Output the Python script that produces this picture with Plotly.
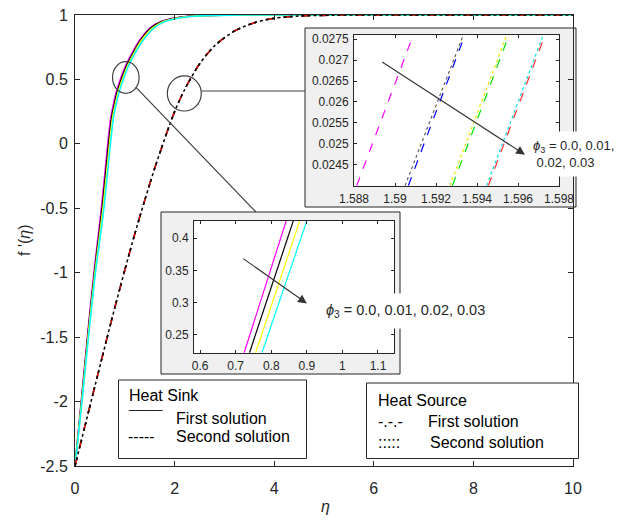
import plotly.graph_objects as go

W, H = 629, 520
L, R, T, B = 75, 573, 15, 466   # main plot area in pixels

def X(px):
    return (px - L) / (R - L)

def Y(py):
    return (B - py) / (B - T)

# ---------------- data ----------------
# main plot: first solutions (heat sink, solid), eta positions at common f' levels
F_LEVELS = [-2.5, -2.0, -1.5, -1.0, -0.5, 0.0, 0.2, 0.3, 0.4, 0.5, 0.6, 0.7, 0.8, 0.9, 0.95, 0.99, 1.0, 1.0]
ETA_MAGENTA = [0, 0.125, 0.248, 0.38, 0.53, 0.658, 0.717, 0.768, 0.827, 0.91, 1.01, 1.14, 1.29, 1.51, 1.73, 2.27, 3.1, 10]
ETA_BLACK = [0, 0.13, 0.255, 0.39, 0.545, 0.675, 0.735, 0.786, 0.846, 0.93, 1.03, 1.16, 1.31, 1.53, 1.75, 2.3, 3.2, 10]
ETA_YELLOW = [0, 0.135, 0.262, 0.40, 0.562, 0.693, 0.753, 0.804, 0.865, 0.95, 1.05, 1.18, 1.33, 1.56, 1.78, 2.34, 3.3, 10]
ETA_CYAN = [0, 0.14, 0.27, 0.41, 0.58, 0.711, 0.771, 0.822, 0.884, 0.97, 1.07, 1.2, 1.36, 1.59, 1.81, 2.38, 3.4, 10]

# main plot: second solutions
ETA_SECOND = [0, 0.4, 0.8, 1.2, 1.6, 2.0, 2.2, 2.5, 2.8, 3.2, 3.6, 4.0, 4.5, 5.2, 6.0, 10]
F_SECOND = [-2.5, -1.88, -1.27, -0.70, -0.19, 0.25, 0.42, 0.62, 0.76, 0.875, 0.94, 0.975, 0.992, 0.999, 1.0, 1.0]

# upper inset (second solutions), each line: eta at bottom / top of the inset
UP_F = [0.024, 0.0276]
UP_MAGENTA = [1.58813, 1.59089]
UP_GRAY = [1.59049, 1.59333]
UP_BLUE = [1.59065, 1.59341]
UP_YELLOW = [1.59268, 1.59545]
UP_GREEN = [1.5928, 1.59556]
UP_CYAN = [1.59447, 1.59723]
UP_RED = [1.59455, 1.59732]

# lower inset (first solutions)
LO_F = [0.2225, 0.427]
LO_MAGENTA = [0.724, 0.842]
LO_BLACK = [0.739, 0.862]
LO_YELLOW = [0.756, 0.880]
LO_CYAN = [0.774, 0.900]

# tick labels
MAIN_XT = [0, 2, 4, 6, 8, 10]
MAIN_YT = [-2.5, -2, -1.5, -1, -0.5, 0, 0.5, 1]
MAIN_YT_TXT = ["-2.5", "-2", "-1.5", "-1", "-0.5", "0", "0.5", "1"]
UP_XT = [1.588, 1.590, 1.592, 1.594, 1.596, 1.598]
UP_XT_TXT = ["1.588", "1.59", "1.592", "1.594", "1.596", "1.598"]
UP_YT = [0.0245, 0.025, 0.0255, 0.026, 0.0265, 0.027, 0.0275]
UP_YT_TXT = ["0.0245", "0.025", "0.0255", "0.026", "0.0265", "0.027", "0.0275"]
LO_XT = [0.6, 0.7, 0.8, 0.9, 1.0, 1.1]
LO_XT_TXT = ["0.6", "0.7", "0.8", "0.9", "1", "1.1"]
LO_YT = [0.25, 0.3, 0.35, 0.4]
LO_YT_TXT = ["0.25", "0.3", "0.35", "0.4"]

AX = "#262626"
FONT = "Liberation Sans, Arial, sans-serif"

fig = go.Figure()

# main first solutions
for eta, col in [(ETA_MAGENTA, "#ff00ff"), (ETA_BLACK, "#000000"),
                 (ETA_YELLOW, "#ffff00"), (ETA_CYAN, "#00ffff")]:
    fig.add_trace(go.Scatter(x=eta, y=F_LEVELS, mode="lines",
                             line=dict(color=col, width=1.6, shape="spline", smoothing=0.8),
                             xaxis="x", yaxis="y", showlegend=False, hoverinfo="skip"))

# main second solutions
for col, dash in [("#ff00ff", "dash"), ("#0000ff", "dash"), ("#00ff00", "dash"),
                  ("#ff0000", "dash"), ("#000000", "dot")]:
    fig.add_trace(go.Scatter(x=ETA_SECOND, y=F_SECOND, mode="lines",
                             line=dict(color=col, width=1.5, dash=dash, shape="spline", smoothing=0.8),
                             xaxis="x", yaxis="y", showlegend=False, hoverinfo="skip"))

# upper inset
for eta, col, dash in [(UP_GRAY, "#606060", "dot"), (UP_YELLOW, "#e8e800", "dot"),
                       (UP_CYAN, "#00e0e0", "dot"), (UP_MAGENTA, "#ff00ff", "dash"),
                       (UP_BLUE, "#0000ff", "dash"), (UP_GREEN, "#00e000", "dash"),
                       (UP_RED, "#ff3030", "dash")]:
    fig.add_trace(go.Scatter(x=eta, y=UP_F, mode="lines",
                             line=dict(color=col, width=1.2, dash=dash),
                             xaxis="x2", yaxis="y2", showlegend=False, hoverinfo="skip"))

# lower inset
for eta, col in [(LO_MAGENTA, "#ff00ff"), (LO_BLACK, "#000000"),
                 (LO_YELLOW, "#ffff00"), (LO_CYAN, "#00ffff")]:
    fig.add_trace(go.Scatter(x=eta, y=LO_F, mode="lines",
                             line=dict(color=col, width=1.2),
                             xaxis="x3", yaxis="y3", showlegend=False, hoverinfo="skip"))

def axis_common(size):
    return dict(showline=True, linecolor=AX, linewidth=1, mirror="ticks",
                ticks="inside", tickcolor=AX, tickwidth=1, showgrid=False,
                zeroline=False, automargin=False,
                tickfont=dict(family=FONT, size=size, color=AX))

layout = dict(
    width=W, height=H,
    margin=dict(l=L, r=W - R, t=T, b=H - B, pad=0),
    paper_bgcolor="white",
    plot_bgcolor="rgba(0,0,0,0)",
    xaxis=dict(domain=[0, 1], range=[0, 10], tickvals=MAIN_XT,
               ticktext=[str(v) for v in MAIN_XT], ticklen=5, ticklabelstandoff=8,
               anchor="y", **axis_common(16)),
    yaxis=dict(domain=[0, 1], range=[-2.5, 1], tickvals=MAIN_YT,
               ticktext=MAIN_YT_TXT, ticklen=5, ticklabelstandoff=3,
               anchor="x", **axis_common(16)),
    xaxis2=dict(domain=[X(354), X(559)], range=[1.588, 1.598], tickvals=UP_XT,
                ticktext=UP_XT_TXT, ticklen=3, ticklabelstandoff=2, anchor="y2",
                **axis_common(12)),
    yaxis2=dict(domain=[Y(185.7), Y(35)], range=[0.024, 0.0276], tickvals=UP_YT,
                ticktext=UP_YT_TXT, ticklen=3, ticklabelstandoff=2, anchor="x2",
                **axis_common(12)),
    xaxis3=dict(domain=[X(194), X(394)], range=[0.583, 1.145], tickvals=LO_XT,
                ticktext=LO_XT_TXT, ticklen=3, ticklabelstandoff=2, anchor="y3",
                **axis_common(12)),
    yaxis3=dict(domain=[Y(352.7), Y(221)], range=[0.2225, 0.4268], tickvals=LO_YT,
                ticktext=LO_YT_TXT, ticklen=3, ticklabelstandoff=2, anchor="x3",
                **axis_common(12)),
)
fig.update_layout(**layout)

shapes = []
# inset frames
shapes.append(dict(type="rect", xref="paper", yref="paper", x0=X(305), x1=X(576), y0=Y(207), y1=Y(28),
                   fillcolor="#f0f0f0", line=dict(color=AX, width=1), layer="below"))
shapes.append(dict(type="rect", xref="paper", yref="paper", x0=X(354), x1=X(559), y0=Y(185.7), y1=Y(35),
                   fillcolor="white", line=dict(width=0), layer="below"))
shapes.append(dict(type="rect", xref="paper", yref="paper", x0=X(161), x1=X(400), y0=Y(374), y1=Y(212),
                   fillcolor="#f0f0f0", line=dict(color=AX, width=1), layer="below"))
shapes.append(dict(type="rect", xref="paper", yref="paper", x0=X(194), x1=X(394), y0=Y(352.7), y1=Y(221),
                   fillcolor="white", line=dict(width=0), layer="below"))
# legend boxes
shapes.append(dict(type="rect", xref="paper", yref="paper", x0=X(118.5), x1=X(306.5), y0=Y(458.5), y1=Y(380),
                   fillcolor="white", line=dict(color=AX, width=1), layer="above"))
shapes.append(dict(type="rect", xref="paper", yref="paper", x0=X(366.5), x1=X(578.5), y0=Y(458.5), y1=Y(383),
                   fillcolor="white", line=dict(color=AX, width=1), layer="above"))
# zoom circles (main data coordinates)
shapes.append(dict(type="circle", xref="x", yref="y", x0=1.02 - 0.267, x1=1.02 + 0.267,
                   y0=0.515 - 0.123, y1=0.515 + 0.123, line=dict(color="#404040", width=1.2), layer="above"))
shapes.append(dict(type="circle", xref="x", yref="y", x0=2.195 - 0.341, x1=2.195 + 0.341,
                   y0=0.391 - 0.136, y1=0.391 + 0.136, line=dict(color="#404040", width=1.2), layer="above"))
# connector lines
shapes.append(dict(type="line", xref="paper", yref="paper", x0=X(136), y0=Y(87.3), x1=X(256), y1=Y(212),
                   line=dict(color="#404040", width=1.2), layer="above"))
shapes.append(dict(type="line", xref="paper", yref="paper", x0=X(201.7), y0=Y(91), x1=X(305), y1=Y(91),
                   line=dict(color="#404040", width=1.2), layer="above"))
fig.update_layout(shapes=shapes)

ann = []
# arrows
ann.append(dict(xref="x2", yref="y2", axref="x2", ayref="y2", x=1.59634, y=0.02474,
                ax=1.5893, ay=0.02698, text="", showarrow=True, arrowhead=2, arrowsize=1.6,
                arrowwidth=1.1, arrowcolor="#333333", standoff=0))
ann.append(dict(xref="x3", yref="y3", axref="x3", ayref="y3", x=0.900, y=0.299,
                ax=0.717, ay=0.370, text="", showarrow=True, arrowhead=2, arrowsize=1.6,
                arrowwidth=1.1, arrowcolor="#333333", standoff=0))
# phi texts
ann.append(dict(xref="paper", yref="paper", x=X(317), y=Y(311), xanchor="left", yanchor="middle",
                text="<i>ϕ</i><sub>3</sub> = 0.0, 0.01, 0.02, 0.03", showarrow=False,
                bgcolor="white", borderpad=8, font=dict(family=FONT, size=14.5, color=AX)))
ann.append(dict(xref="paper", yref="paper", x=X(526), y=Y(154), xanchor="left", yanchor="middle",
                align="left", text="<i>ϕ</i><sub>3</sub> = 0.0, 0.01,<br> 0.02, 0.03", showarrow=False,
                bgcolor="white", borderpad=6, font=dict(family=FONT, size=13, color=AX)))
# axis titles
ann.append(dict(xref="paper", yref="paper", x=X(24), y=Y(240), xanchor="center", yanchor="middle",
                text="f '(<i>η</i>)", textangle=-90,
                showarrow=False, font=dict(family=FONT, size=16, color=AX)))
ann.append(dict(xref="paper", yref="paper", x=X(325), y=Y(507), xanchor="center", yanchor="middle",
                text="<i>η</i>",
                showarrow=False, font=dict(family=FONT, size=16, color=AX)))
# legend texts
def txt(x, y, s, size=16):
    return dict(xref="paper", yref="paper", x=X(x), y=Y(y), xanchor="left", yanchor="middle",
                text=s, showarrow=False, font=dict(family=FONT, size=size, color="#000000"))
ann.append(txt(127, 395, "Heat Sink"))
ann.append(txt(126, 404, "_____", 12))
ann.append(txt(174, 418, "First solution"))
ann.append(txt(126, 436, "-----"))
ann.append(txt(174, 436, "Second solution"))
ann.append(txt(376, 400, "Heat Source"))
ann.append(txt(376, 421, "-.-.-"))
ann.append(txt(426, 421, "First solution"))
ann.append(txt(376, 442, ":::::"))
ann.append(txt(428, 442, "Second solution"))
fig.update_layout(annotations=ann)

fig.write_html("out.html", config={"displayModeBar": False},
               post_script="document.body.style.margin='0px';document.body.style.overflow='hidden';")
